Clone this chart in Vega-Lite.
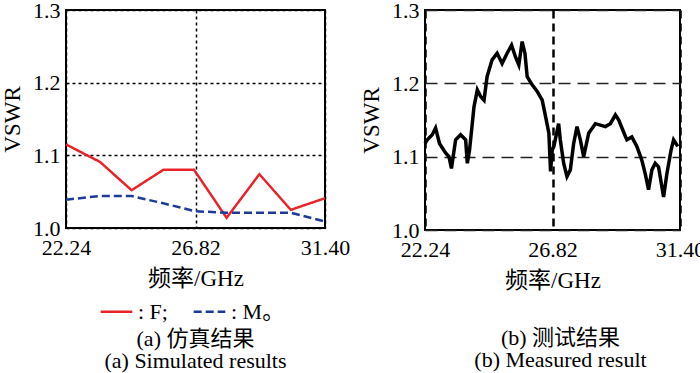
{
  "$schema": "https://vega.github.io/schema/vega-lite/v6.json",
  "padding": {"left": 0, "top": -2, "right": 5, "bottom": 0},
  "background": "white",
  "config": {
    "font": "Liberation Serif",
    "view": {"stroke": "black", "strokeWidth": 2},
    "axis": {
      "labelFont": "Liberation Serif", "labelFontSize": 22, "labelColor": "black",
      "titleFont": "Liberation Serif, Noto Sans CJK SC", "titleFontSize": 23, "titleFontWeight": "normal", "titleColor": "black",
      "domain": false, "ticks": false, "labelFlush": false, "labelOverlap": false
    }
  },
  "datasets": {
    "sim": [
      {"f": 22.24, "v": 1.115, "s": "F"},
      {"f": 23.44, "v": 1.091, "s": "F"},
      {"f": 24.56, "v": 1.052, "s": "F"},
      {"f": 25.68, "v": 1.080, "s": "F"},
      {"f": 26.77, "v": 1.080, "s": "F"},
      {"f": 27.92, "v": 1.014, "s": "F"},
      {"f": 29.08, "v": 1.074, "s": "F"},
      {"f": 30.19, "v": 1.025, "s": "F"},
      {"f": 31.40, "v": 1.041, "s": "F"},
      {"f": 22.24, "v": 1.039, "s": "M"},
      {"f": 23.44, "v": 1.044, "s": "M"},
      {"f": 24.56, "v": 1.044, "s": "M"},
      {"f": 25.68, "v": 1.034, "s": "M"},
      {"f": 26.82, "v": 1.023, "s": "M"},
      {"f": 27.92, "v": 1.021, "s": "M"},
      {"f": 29.08, "v": 1.021, "s": "M"},
      {"f": 30.19, "v": 1.021, "s": "M"},
      {"f": 31.40, "v": 1.009, "s": "M"}
    ],
    "meas": [
      {"f": 22.24, "v": 1.118}, {"f": 22.32, "v": 1.123}, {"f": 22.50, "v": 1.130}, {"f": 22.62, "v": 1.139},
      {"f": 22.76, "v": 1.118}, {"f": 22.98, "v": 1.105}, {"f": 23.10, "v": 1.100}, {"f": 23.19, "v": 1.084},
      {"f": 23.34, "v": 1.123}, {"f": 23.52, "v": 1.130}, {"f": 23.70, "v": 1.123}, {"f": 23.76, "v": 1.091},
      {"f": 23.84, "v": 1.109}, {"f": 24.00, "v": 1.168}, {"f": 24.12, "v": 1.191}, {"f": 24.24, "v": 1.182},
      {"f": 24.36, "v": 1.177}, {"f": 24.47, "v": 1.209}, {"f": 24.65, "v": 1.232}, {"f": 24.83, "v": 1.241},
      {"f": 25.01, "v": 1.227}, {"f": 25.19, "v": 1.241}, {"f": 25.35, "v": 1.252}, {"f": 25.49, "v": 1.236},
      {"f": 25.61, "v": 1.225}, {"f": 25.73, "v": 1.257}, {"f": 25.83, "v": 1.241}, {"f": 25.91, "v": 1.209},
      {"f": 26.09, "v": 1.198}, {"f": 26.27, "v": 1.189}, {"f": 26.45, "v": 1.177}, {"f": 26.57, "v": 1.155},
      {"f": 26.69, "v": 1.132}, {"f": 26.75, "v": 1.080}, {"f": 26.81, "v": 1.109}, {"f": 26.87, "v": 1.114},
      {"f": 27.04, "v": 1.145}, {"f": 27.10, "v": 1.123}, {"f": 27.22, "v": 1.091}, {"f": 27.34, "v": 1.073},
      {"f": 27.46, "v": 1.082}, {"f": 27.58, "v": 1.118}, {"f": 27.70, "v": 1.141}, {"f": 27.82, "v": 1.123},
      {"f": 27.94, "v": 1.100}, {"f": 28.12, "v": 1.132}, {"f": 28.36, "v": 1.145}, {"f": 28.54, "v": 1.143},
      {"f": 28.72, "v": 1.141}, {"f": 28.90, "v": 1.145}, {"f": 29.08, "v": 1.157}, {"f": 29.20, "v": 1.150},
      {"f": 29.37, "v": 1.134}, {"f": 29.49, "v": 1.123}, {"f": 29.67, "v": 1.127}, {"f": 29.85, "v": 1.114},
      {"f": 30.03, "v": 1.095}, {"f": 30.15, "v": 1.077}, {"f": 30.27, "v": 1.055}, {"f": 30.39, "v": 1.082},
      {"f": 30.51, "v": 1.091}, {"f": 30.63, "v": 1.086}, {"f": 30.81, "v": 1.045}, {"f": 30.93, "v": 1.077},
      {"f": 31.08, "v": 1.109}, {"f": 31.17, "v": 1.123}, {"f": 31.32, "v": 1.114}
    ]
  },
  "spacing": 8,
  "resolve": {"legend": {"color": "independent", "strokeDash": "independent"}},
  "hconcat": [
    {
      "width": 259, "height": 218,
      "data": {"name": "sim"},
      "title": {"text": ["(a) 仿真结果", "(a) Simulated results"], "orient": "bottom", "frame": "group", "anchor": "middle",
        "fontSize": 22, "fontWeight": "normal", "font": "Liberation Serif, Noto Sans CJK SC", "lineHeight": 22, "offset": 6, "color": "black"},
      "mark": {"type": "line", "strokeWidth": 2.5},
      "encoding": {
        "x": {"field": "f", "type": "quantitative", "scale": {"domain": [22.24, 31.4], "nice": false, "zero": false},
          "axis": {"values": [22.24, 26.82, 31.4], "format": ".2f", "title": "频率/GHz", "grid": true, "gridDash": [3, 3], "gridColor": "black", "gridWidth": 1.5, "gridOpacity": 1, "labelPadding": 9, "titlePadding": 9}},
        "y": {"field": "v", "type": "quantitative", "scale": {"domain": [1.0, 1.3], "nice": false, "zero": false},
          "axis": {"values": [1.0, 1.1, 1.2, 1.3], "format": ".1f", "title": "VSWR", "grid": true, "gridDash": [3, 3], "gridColor": "black", "gridWidth": 1.5, "gridOpacity": 1, "labelPadding": 6, "titlePadding": 8}},
        "color": {"field": "s", "type": "nominal", "scale": {"domain": ["F", "M"], "range": ["#e8242a", "#1c3a96"]},
          "legend": {"orient": "none", "legendX": 33, "legendY": 284, "direction": "horizontal", "title": null, "symbolType": "stroke", "symbolSize": 1000, "symbolStrokeWidth": 2.5,
            "labelFont": "Liberation Serif, Noto Sans CJK SC", "labelFontSize": 22, "labelColor": "black", "columnPadding": 20, "labelOffset": 4,
            "labelExpr": "datum.value == 'F' ? ': F;' : ': M。'"}},
        "strokeDash": {"field": "s", "type": "nominal", "scale": {"domain": ["F", "M"], "range": [[1, 0], [8, 4]]},
          "legend": {"orient": "none", "legendX": 33, "legendY": 284, "direction": "horizontal", "title": null, "symbolType": "stroke", "symbolSize": 1000, "symbolStrokeWidth": 2.5,
            "labelFont": "Liberation Serif, Noto Sans CJK SC", "labelFontSize": 22, "labelColor": "black", "columnPadding": 20, "labelOffset": 4,
            "labelExpr": "datum.value == 'F' ? ': F;' : ': M。'"}}
      }
    },
    {
      "width": 255, "height": 220,
      "data": {"name": "meas"},
      "title": {"text": ["(b) 测试结果", "(b) Measured result"], "orient": "bottom", "frame": "group", "anchor": "middle", "dx": 8,
        "fontSize": 22, "fontWeight": "normal", "font": "Liberation Serif, Noto Sans CJK SC", "lineHeight": 22, "offset": 36, "color": "black"},
      "mark": {"type": "line", "strokeWidth": 3.5, "color": "black"},
      "encoding": {
        "x": {"field": "f", "type": "quantitative", "scale": {"domain": [22.24, 31.4], "nice": false, "zero": false},
          "axis": {"values": [22.24, 26.82, 31.4], "format": ".2f", "title": "频率/GHz", "grid": true, "gridDash": [8, 5], "gridColor": "black", "gridWidth": 2.5, "gridOpacity": 1, "labelPadding": 9, "titlePadding": 9}},
        "y": {"field": "v", "type": "quantitative", "scale": {"domain": [1.0, 1.3], "nice": false, "zero": false},
          "axis": {"values": [1.0, 1.1, 1.2, 1.3], "format": ".1f", "title": "VSWR", "grid": true, "gridDash": [12, 7], "gridColor": "#222", "gridWidth": 1.5, "gridOpacity": 1, "labelPadding": 6, "titlePadding": 8}}
      }
    }
  ]
}
